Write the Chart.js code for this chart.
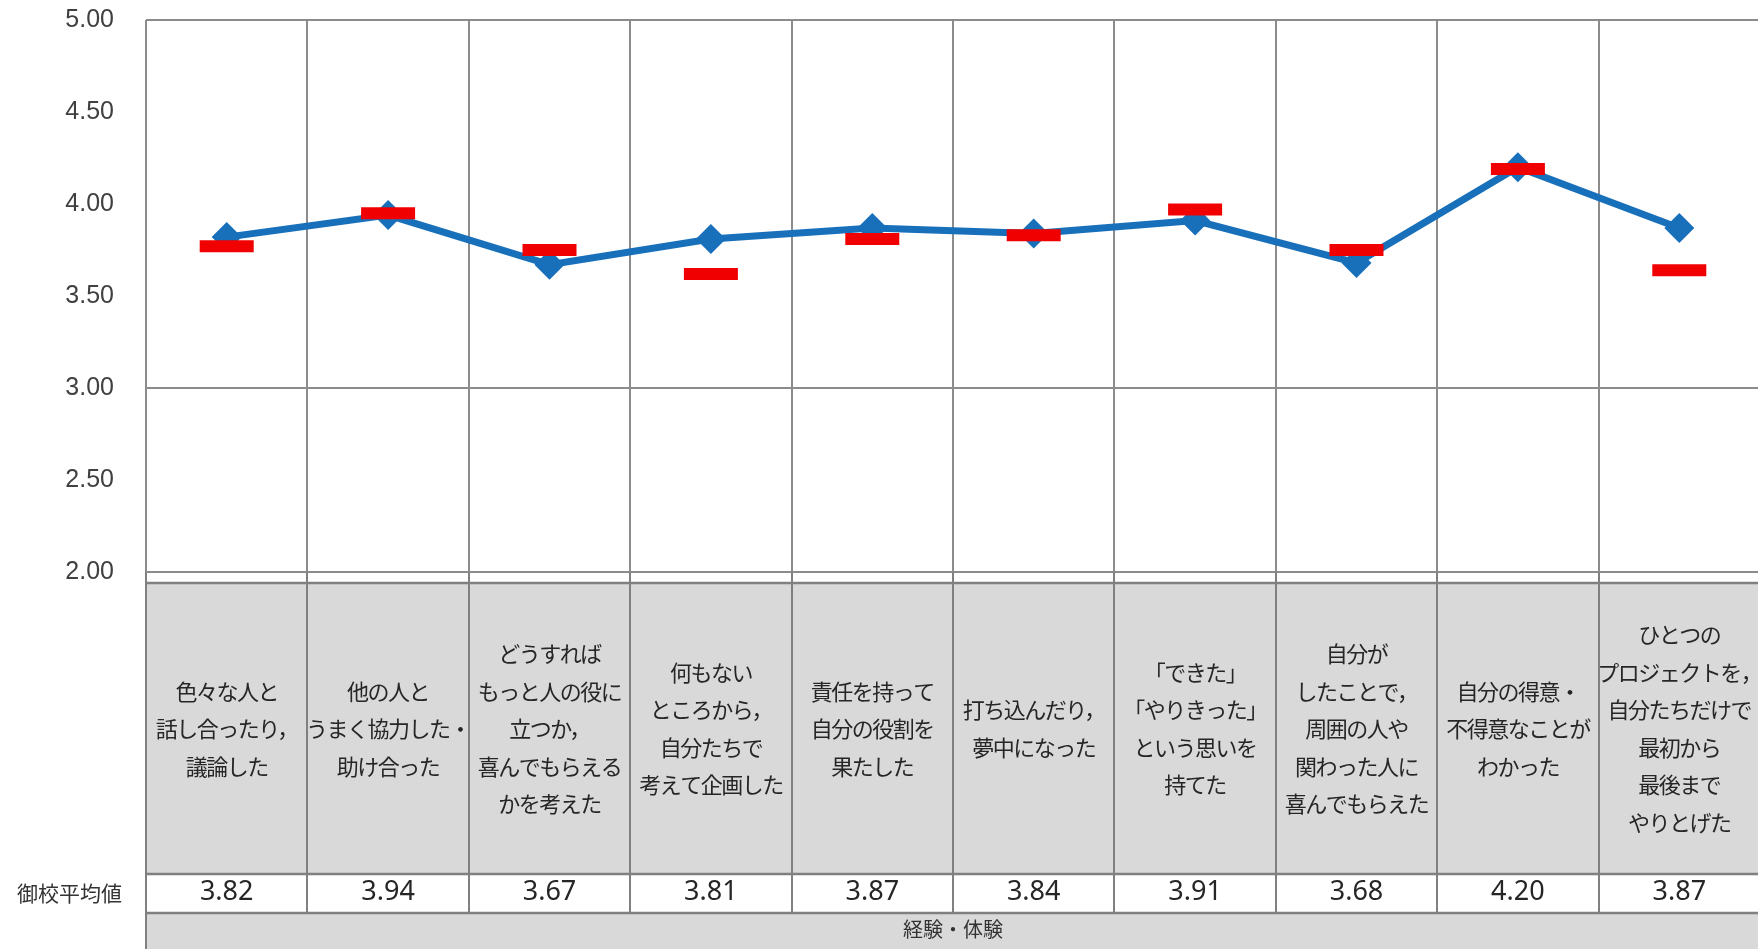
<!DOCTYPE html>
<html lang="ja">
<head>
<meta charset="utf-8">
<script src="https://cdn.jsdelivr.net/npm/chart.js@4.4.1/dist/chart.umd.min.js"></script>
<style>
  html, body { margin: 0; padding: 0; background: #fff; overflow: hidden; }
  #wrap { width: 1770px; height: 960px; }
</style>
</head>
<body>
<div id="wrap"><canvas id="experienceChart" width="1770" height="960"></canvas></div>
<script>
// categories (multi-line labels)
var categories = [
    ['色々な人と', '話し合ったり，', '議論した'],
    ['他の人と', 'うまく協力した・', '助け合った'],
    ['どうすれば', 'もっと人の役に', '立つか，', '喜んでもらえる', 'かを考えた'],
    ['何もない', 'ところから，', '自分たちで', '考えて企画した'],
    ['責任を持って', '自分の役割を', '果たした'],
    ['打ち込んだり，', '夢中になった'],
    ['「できた」', '「やりきった」', 'という思いを', '持てた'],
    ['自分が', 'したことで，', '周囲の人や', '関わった人に', '喜んでもらえた'],
    ['自分の得意・', '不得意なことが', 'わかった'],
    ['ひとつの', 'プロジェクトを，', '自分たちだけで', '最初から', '最後まで', 'やりとげた']
];
var schoolAverage = [3.82, 3.94, 3.67, 3.81, 3.87, 3.84, 3.91, 3.68, 4.20, 3.87];
var overallAverage = [3.77, 3.95, 3.75, 3.62, 3.81, 3.83, 3.97, 3.75, 4.19, 3.64];
var yTicks = [2.0, 2.5, 3.0, 3.5, 4.0, 4.5, 5.0];
var yGridLines = [2.0, 3.0, 5.0];
var groupLabels = ['経験・体験'];
var rowLabel = '御校平均値';

var lineGray = '#8c8c8c';
var jpFont = '"Noto Sans CJK JP", "Noto Sans", sans-serif';

function noPadding(s) {
    s.paddingLeft = 0;
    s.paddingRight = 0;
    s.paddingTop = 0;
    s.paddingBottom = 0;
}

// grey cells and frame of the table under the plot
var tableFrame = {
    id: 'tableFrame',
    beforeDraw: function (chart) {
        var ctx = chart.ctx;
        var x = chart.scales.x, grp = chart.scales.group;
        ctx.save();
        ctx.fillStyle = '#d9d9d9';
        ctx.fillRect(x.left, x.top + 11, x.right - x.left, x.bottom - x.top - 11);
        ctx.fillRect(grp.left, grp.top, grp.right - grp.left, grp.bottom - grp.top);
        ctx.restore();
    },
    afterDatasetsDraw: function (chart) {
        // category labels are drawn next (ticks.z = 1), a bit tighter like the original
        chart.ctx.letterSpacing = '-1.5px';
    },
    afterDraw: function (chart) {
        var ctx = chart.ctx;
        var x = chart.scales.x, vals = chart.scales.values, grp = chart.scales.group;
        ctx.letterSpacing = '0px';
        ctx.save();
        ctx.strokeStyle = '#808080';
        ctx.lineWidth = 2;
        ctx.beginPath();
        for (var i = 0; i <= categories.length; i++) {
            var px = Math.round(x.getPixelForValue(i - 0.5));
            ctx.moveTo(px, x.top);
            ctx.lineTo(px, vals.bottom);
        }
        ctx.moveTo(x.left, grp.top);
        ctx.lineTo(x.left, grp.bottom);
        ctx.stroke();

        ctx.lineWidth = 2.5;
        ctx.beginPath();
        [x.top + 11, vals.top, vals.bottom].forEach(function (py) {
            ctx.moveTo(x.left, py);
            ctx.lineTo(x.right, py);
        });
        ctx.stroke();

        ctx.fillStyle = '#333333';
        ctx.font = '21px ' + jpFont;
        ctx.textAlign = 'right';
        ctx.textBaseline = 'middle';
        ctx.fillText(rowLabel, x.left - 24, (vals.top + vals.bottom) / 2);
        ctx.restore();
    }
};

var ctx = document.getElementById('experienceChart').getContext('2d');
var experienceChart = new Chart(ctx, {
    type: 'line',
    data: {
        labels: categories,
        datasets: [{
            label: '全体平均',
            data: overallAverage,
            showLine: false,
            pointStyle: 'line',
            pointRadius: 27,
            pointHoverRadius: 27,
            pointBorderWidth: 12,
            pointHoverBorderWidth: 12,
            borderColor: '#f00000',
            backgroundColor: '#f00000',
            order: 0
        }, {
            label: '御校平均値',
            data: schoolAverage,
            borderColor: '#1870bb',
            backgroundColor: '#1870bb',
            borderWidth: 7,
            pointStyle: 'rectRot',
            pointRadius: 15,
            pointHoverRadius: 15,
            pointBorderWidth: 0,
            tension: 0,
            order: 1
        }]
    },
    options: {
        responsive: false,
        animation: false,
        events: [],
        layout: {
            autoPadding: false,
            padding: { left: 0, right: 10, top: 20, bottom: 0 }
        },
        plugins: {
            legend: { display: false },
            tooltip: { enabled: false }
        },
        scales: {
            y: {
                min: 2,
                max: 5,
                afterBuildTicks: function (s) {
                    s.ticks = yTicks.map(function (v) { return { value: v }; });
                },
                afterFit: function (s) { s.width = 146; noPadding(s); },
                border: { display: false },
                grid: {
                    drawTicks: false,
                    lineWidth: 2,
                    color: function (c) {
                        return c.tick && yGridLines.indexOf(c.tick.value) >= 0 ? lineGray : 'rgba(0,0,0,0)';
                    }
                },
                ticks: {
                    padding: 32,
                    color: '#404040',
                    font: { family: '"Liberation Sans", Arial, sans-serif', size: 25 },
                    callback: function (v) { return Number(v).toFixed(2); }
                }
            },
            x: {
                offset: true,
                afterFit: function (s) { s.height = 302; noPadding(s); },
                border: { display: false },
                grid: {
                    offset: true,
                    drawTicks: false,
                    lineWidth: 2,
                    color: lineGray
                },
                ticks: {
                    z: 1,
                    autoSkip: false,
                    maxRotation: 0,
                    minRotation: 0,
                    crossAlign: 'center',
                    padding: 63,
                    color: '#262626',
                    font: { family: jpFont, size: 22, lineHeight: 1.705 }
                }
            },
            values: {
                type: 'category',
                position: 'bottom',
                weight: 1,
                labels: schoolAverage.map(function (v) { return v.toFixed(2); }),
                offset: true,
                afterFit: function (s) { s.height = 39; noPadding(s); },
                border: { display: false },
                grid: { display: false, drawTicks: false },
                ticks: {
                    autoSkip: false,
                    maxRotation: 0,
                    crossAlign: 'center',
                    padding: 18,
                    color: '#262626',
                    font: { family: '"Noto Sans", sans-serif', size: 27 }
                }
            },
            group: {
                type: 'category',
                position: 'bottom',
                weight: 2,
                labels: groupLabels,
                offset: true,
                afterFit: function (s) { s.height = 47; noPadding(s); },
                border: { display: false },
                grid: { display: false, drawTicks: false },
                ticks: {
                    maxRotation: 0,
                    crossAlign: 'center',
                    padding: 16,
                    color: '#333333',
                    font: { family: jpFont, size: 20 }
                }
            }
        }
    },
    plugins: [tableFrame]
});
</script>
</body>
</html>
